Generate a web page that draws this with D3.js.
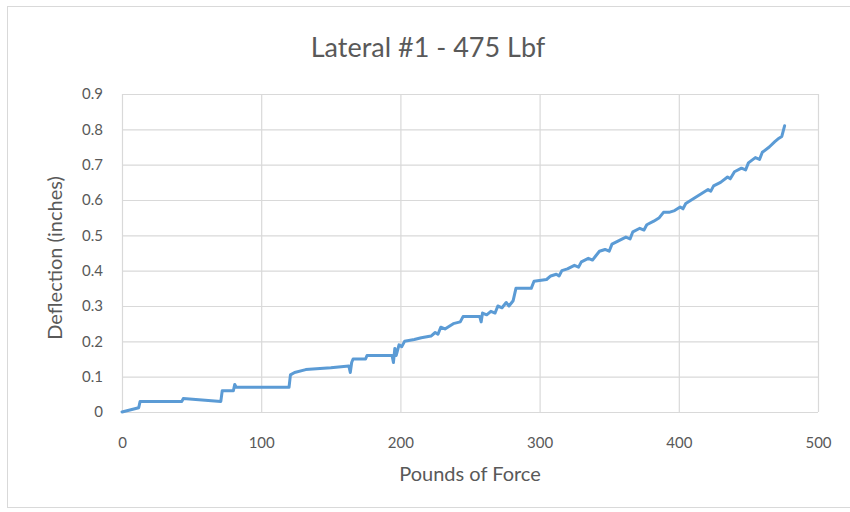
<!DOCTYPE html>
<html>
<head>
<meta charset="utf-8">
<script src="https://cdn.jsdelivr.net/npm/d3@7"></script>
<style>
  html, body { margin: 0; padding: 0; background: #fff; }
  svg { display: block; }
  text { font-family: Lato, "Open Sans", sans-serif; fill: #595959; }
</style>
</head>
<body>
<svg id="chart" width="850" height="512"></svg>
<script>
const title = "Lateral #1 - 475 Lbf";
const xTitle = "Pounds of Force";
const yTitle = "Deflection (inches)";
const xTicks = [0, 100, 200, 300, 400, 500];
const yTicks = [0, 0.1, 0.2, 0.3, 0.4, 0.5, 0.6, 0.7, 0.8, 0.9];

const force = [0, 12, 13, 43, 44, 71, 72, 80, 81, 82, 120, 121, 124, 132, 150, 163, 164, 165, 166, 167, 175, 176, 194, 195, 196, 197, 199, 201, 203, 210, 215, 222, 225, 227, 229, 232, 238, 243, 245, 257, 258, 259, 262, 265, 268, 270, 273, 276, 278, 281, 283, 294, 296, 305, 308, 312, 314, 316, 320, 325, 328, 330, 335, 338, 340, 343, 347, 350, 352, 357, 362, 365, 367, 372, 375, 377, 382, 386, 389, 393, 397, 401, 403, 405, 409, 413, 417, 421, 423, 425, 430, 435, 437, 440, 445, 448, 450, 455, 458, 460, 465, 469, 472, 474, 475, 476];
const deflection = [0, 0.012, 0.03, 0.03, 0.038, 0.03, 0.06, 0.06, 0.078, 0.07, 0.07, 0.105, 0.112, 0.12, 0.125, 0.13, 0.112, 0.14, 0.15, 0.15, 0.15, 0.16, 0.16, 0.14, 0.18, 0.16, 0.19, 0.185, 0.2, 0.205, 0.21, 0.215, 0.225, 0.22, 0.24, 0.235, 0.25, 0.255, 0.27, 0.27, 0.255, 0.28, 0.275, 0.285, 0.28, 0.3, 0.295, 0.31, 0.3, 0.315, 0.35, 0.35, 0.37, 0.375, 0.385, 0.39, 0.385, 0.4, 0.405, 0.415, 0.41, 0.425, 0.435, 0.43, 0.44, 0.455, 0.46, 0.455, 0.475, 0.485, 0.495, 0.49, 0.51, 0.52, 0.515, 0.53, 0.54, 0.55, 0.565, 0.565, 0.57, 0.58, 0.575, 0.59, 0.6, 0.61, 0.62, 0.63, 0.625, 0.64, 0.65, 0.665, 0.66, 0.68, 0.69, 0.685, 0.705, 0.72, 0.715, 0.735, 0.75, 0.765, 0.775, 0.78, 0.795, 0.81];

const svg = d3.select("#chart");
const m = { left: 122, right: 818, top: 94, bottom: 412 };

// chart frame
svg.append("rect").attr("x", 7.5).attr("y", 6.5).attr("width", 900).attr("height", 501)
  .attr("fill", "none").attr("stroke", "#d9d9d9").attr("stroke-width", 1);

const x = d3.scaleLinear().domain([0, 500]).range([m.left, m.right]);
const y = d3.scaleLinear().domain([0, 0.9]).range([m.bottom, m.top]);

// gridlines
const gx = svg.append("g").attr("transform", `translate(0,${m.bottom})`)
  .call(d3.axisBottom(x).tickValues(xTicks).tickSize(-(m.bottom - m.top)).tickFormat(""));
gx.select(".domain").remove();
gx.selectAll("line").attr("stroke", "#d9d9d9").attr("stroke-width", 1.2);

const gy = svg.append("g").attr("transform", `translate(${m.left},0)`)
  .call(d3.axisLeft(y).tickValues(yTicks).tickSize(-(m.right - m.left)).tickFormat(""));
gy.select(".domain").remove();
gy.selectAll("line").attr("stroke", "#d9d9d9").attr("stroke-width", 1.2);

// tick labels
const xl = svg.append("g").attr("transform", `translate(0,${m.bottom})`)
  .call(d3.axisBottom(x).tickValues(xTicks).tickSize(0).tickPadding(25).tickFormat(d3.format("d")));
xl.select(".domain").remove();
xl.selectAll("text").style("font-size", "15px").attr("fill", "#595959").style("font-family", "Lato, sans-serif");

const yl = svg.append("g").attr("transform", `translate(${m.left},0)`)
  .call(d3.axisLeft(y).tickValues(yTicks).tickSize(0).tickPadding(19).tickFormat(d => d === 0 ? "0" : d3.format(".1f")(d)));
yl.select(".domain").remove();
yl.selectAll("text").style("font-size", "15px").attr("fill", "#595959").style("font-family", "Lato, sans-serif");

// data line
const data = force.map((f, i) => ({ f, d: deflection[i] }));
svg.append("path").datum(data)
  .attr("fill", "none").attr("stroke", "#5b9bd5").attr("stroke-width", 3)
  .attr("stroke-linejoin", "round").attr("stroke-linecap", "round")
  .attr("d", d3.line().x(p => x(p.f)).y(p => y(p.d)));

// titles
svg.append("text").attr("x", 428).attr("y", 57).attr("text-anchor", "middle")
  .style("font-size", "27px").text(title);
svg.append("text").attr("x", 470).attr("y", 481).attr("text-anchor", "middle")
  .style("font-size", "20px").text(xTitle);
svg.append("text").attr("transform", "translate(62,258) rotate(-90)").attr("text-anchor", "middle")
  .style("font-size", "20px").text(yTitle);
</script>
</body>
</html>
